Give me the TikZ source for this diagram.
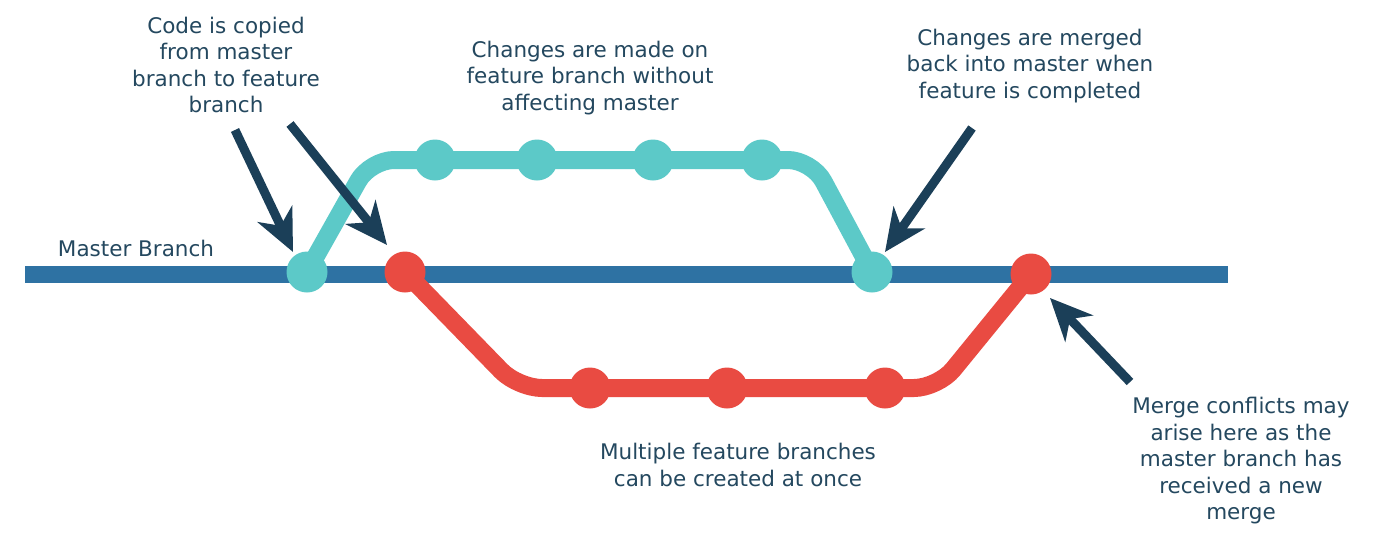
\documentclass[tikz,border=0pt]{standalone}
\usepackage{fontspec}
\setmainfont{DejaVu Sans}
\usetikzlibrary{arrows.meta}
\definecolor{masterblue}{HTML}{2E72A3}
\definecolor{featteal}{HTML}{5CC9C8}
\definecolor{featred}{HTML}{E94B42}
\definecolor{arrownavy}{HTML}{1B3F58}
\definecolor{textnavy}{HTML}{24485F}
\pgfdeclarelayer{bg}
\pgfsetlayers{bg,main}
\tikzset{
  commit/.style={circle, minimum size=41pt, inner sep=0pt, fill=#1},
  masterline/.style={line width=17pt, draw=masterblue},
  branchline/.style={line width=18pt, draw=#1, rounded corners=24pt, line join=round},
  callout/.style={line width=9pt, draw=arrownavy,
    -{Stealth[length=42pt, width=38pt, inset=13pt, fill=arrownavy]}},
  note/.style={text=textnavy, align=center, font=\fontsize{21.5}{26.5}\selectfont, inner sep=0pt}
}
\begin{document}
\begin{tikzpicture}[x=1pt, y=-1pt]
\useasboundingbox (0,0) rectangle (1394,542);

% master branch ends
\coordinate (mstart) at (25,274);
\coordinate (mend) at (1228,274);

% feature branch (teal) commits
\node[commit=featteal] (t0) at (307,272) {};
\node[commit=featteal] (t1) at (435,160) {};
\node[commit=featteal] (t2) at (537,160) {};
\node[commit=featteal] (t3) at (653,160) {};
\node[commit=featteal] (t4) at (762,160) {};
\node[commit=featteal] (t5) at (872,272) {};

% second feature branch (red) commits
\node[commit=featred] (r0) at (405,272) {};
\node[commit=featred] (r1) at (590,388) {};
\node[commit=featred] (r2) at (727,388) {};
\node[commit=featred] (r3) at (885,388) {};
\node[commit=featred] (r4) at (1031,274) {};

\begin{pgfonlayer}{bg}
  \fill[white] (0,0) rectangle (1394,542);
  \draw[masterline] (mstart) -- (mend);
  \draw[branchline=featteal] (t0.center) -- (370,160) -- (t1.center) -- (t2.center)
    -- (t3.center) -- (t4.center) -- (812,160) -- (t5.center);
  \draw[branchline=featred] (r0.center) -- (518,388) -- (r1.center) -- (r2.center)
    -- (r3.center) -- (938,388) -- (r4.center);
\end{pgfonlayer}

% labels
\node[note] (lmaster) at (136,248) {Master Branch};
\node[note] (lcopy) at (226,65) {Code is copied\\from master\\branch to feature\\branch};
\node[note] (lchange) at (590,78) {Changes are made on\\feature branch without\\affecting master};
\node[note] (lmerge) at (1030,66) {Changes are merged\\back into master when\\feature is completed};
\node[note] (lmulti) at (738,465) {Multiple feature branches\\can be created at once};
\node[note] (lconf) at (1241,461) {Merge conflicts may\\arise here as the\\master branch has\\received a new\\merge};

% callout arrows
\coordinate (a1s) at (235,130);
\coordinate (a1e) at (293,252);
\coordinate (a2s) at (290,124);
\coordinate (a2e) at (387,245);
\coordinate (a3s) at (972,128);
\coordinate (a3e) at (885,252);
\coordinate (a4s) at (1130,382);
\coordinate (a4e) at (1050,298);
\draw[callout] (a1s) -- (a1e);
\draw[callout] (a2s) -- (a2e);
\draw[callout] (a3s) -- (a3e);
\draw[callout] (a4s) -- (a4e);
\end{tikzpicture}
\end{document}
